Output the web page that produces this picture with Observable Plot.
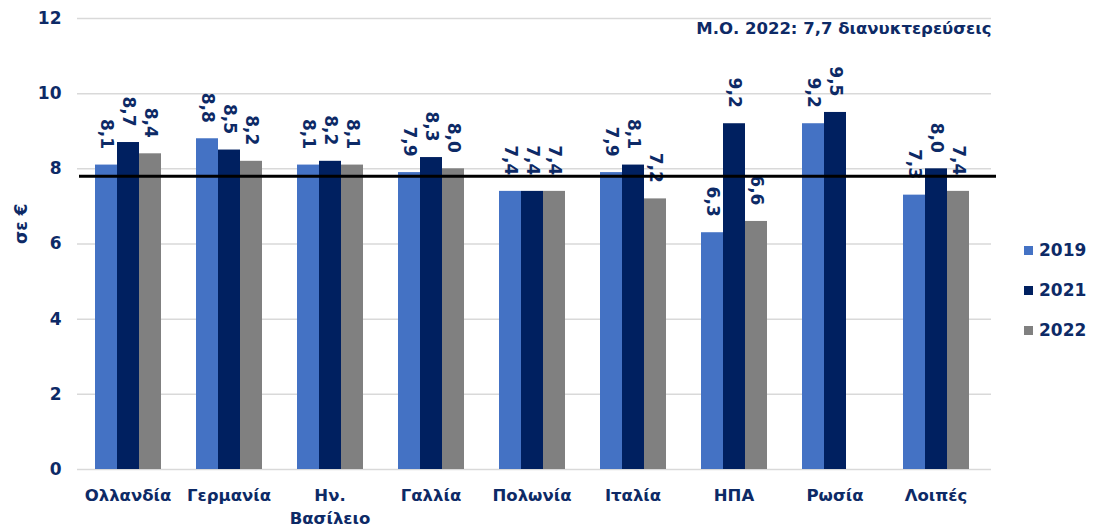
<!DOCTYPE html>
<html>
<head>
<meta charset="utf-8">
<script src="https://cdn.jsdelivr.net/npm/d3@7"></script>
<script src="https://cdn.jsdelivr.net/npm/@observablehq/plot@0.6"></script>
<style>
  body { margin: 0; background: #fff; font-family: "DejaVu Sans", Verdana, sans-serif; }
  #wrap { position: relative; width: 1094px; height: 529px; }
  #legend { position: absolute; left: 1024px; top: 230px; font-weight: bold; font-size: 17px; color: #0d2a66; }
  .li { display: flex; align-items: center; height: 40px; }
  .sw { width: 9px; height: 9px; margin-right: 6px; }
</style>
</head>
<body>
<div id="wrap"><div id="legend"></div></div>
<script>
const categories = ["Ολλανδία", "Γερμανία", "Ην. Βασίλειο", "Γαλλία", "Πολωνία", "Ιταλία", "ΗΠΑ", "Ρωσία", "Λοιπές"];
const years = ["2019", "2021", "2022"];
const v2019 = [8.1, 8.8, 8.1, 7.9, 7.4, 7.9, 6.3, 9.2, 7.3];
const v2021 = [8.7, 8.5, 8.2, 8.3, 7.4, 8.1, 9.2, 9.5, 8.0];
const v2022 = [8.4, 8.2, 8.1, 8.0, 7.4, 7.2, 6.6, null, 7.4];
const avgValue = 7.8;
const avgLabel = "Μ.Ο. 2022: 7,7 διανυκτερεύσεις";
const yTicks = [0, 2, 4, 6, 8, 10, 12];
const yLabel = "σε €";
const colors = ["#4472C4", "#002060", "#808080"];
const textColor = "#0d2a66";

const series = [v2019, v2021, v2022];
const data = [];
categories.forEach((c, i) => {
  years.forEach((y, j) => {
    const v = series[j][i];
    if (v != null) data.push({category: c, year: y, value: v});
  });
});

const fmt = v => v.toFixed(1).replace(".", ",");

const chart = Plot.plot({
  width: 1094,
  height: 529,
  marginLeft: 76,
  marginRight: 107,
  marginTop: 18,
  marginBottom: 60,
  style: { fontFamily: '"DejaVu Sans", Verdana, sans-serif', fontWeight: "bold", color: textColor, background: "white", overflow: "visible" },
  fx: { domain: categories, paddingInner: 0.34, paddingOuter: 0.17 },
  x: { domain: years, padding: 0, axis: null },
  y: { domain: [0, 12] },
  color: { domain: years, range: colors },
  marks: [
    Plot.ruleY(yTicks, { stroke: "#d9d9d9", strokeWidth: 1.5, facetAnchor: "left", insetLeft: -17, insetRight: -830 }),
    Plot.axisY(yTicks, { tickSize: 0, tickPadding: 33, fontSize: 17, label: null, tickFormat: d => d }),
    Plot.text([yLabel], { frameAnchor: "left", facetAnchor: "left", rotate: -90, dx: -73, fontSize: 17, fill: textColor }),
    Plot.axisFx({ anchor: "bottom", tickSize: 0, tickPadding: 16, fontSize: 16.5, lineHeight: 1.35, label: null,
      tickFormat: d => d === "Ην. Βασίλειο" ? "Ην.\nΒασίλειο" : d }),
    Plot.barY(data, { fx: "category", x: "year", y: "value", fill: "year" }),
    Plot.text(data, { fx: "category", x: "year", y: "value", text: d => fmt(d.value), rotate: 90, textAnchor: "end", dy: -16, fontSize: 17, fill: textColor }),
    Plot.ruleY([avgValue], { stroke: "black", strokeWidth: 3, facetAnchor: "left", insetLeft: -15, insetRight: -835 }),
    Plot.text([avgLabel], { frameAnchor: "top-right", facetAnchor: "right", textAnchor: "end", lineAnchor: "top", dx: 22, dy: 4, fontSize: 16.5, fill: textColor })
  ]
});
document.getElementById("wrap").prepend(chart);

const legend = document.getElementById("legend");
years.forEach((y, j) => {
  const row = document.createElement("div");
  row.className = "li";
  const sw = document.createElement("span");
  sw.className = "sw";
  sw.style.background = colors[j];
  const t = document.createElement("span");
  t.textContent = y;
  row.appendChild(sw);
  row.appendChild(t);
  legend.appendChild(row);
});
</script>
</body>
</html>
